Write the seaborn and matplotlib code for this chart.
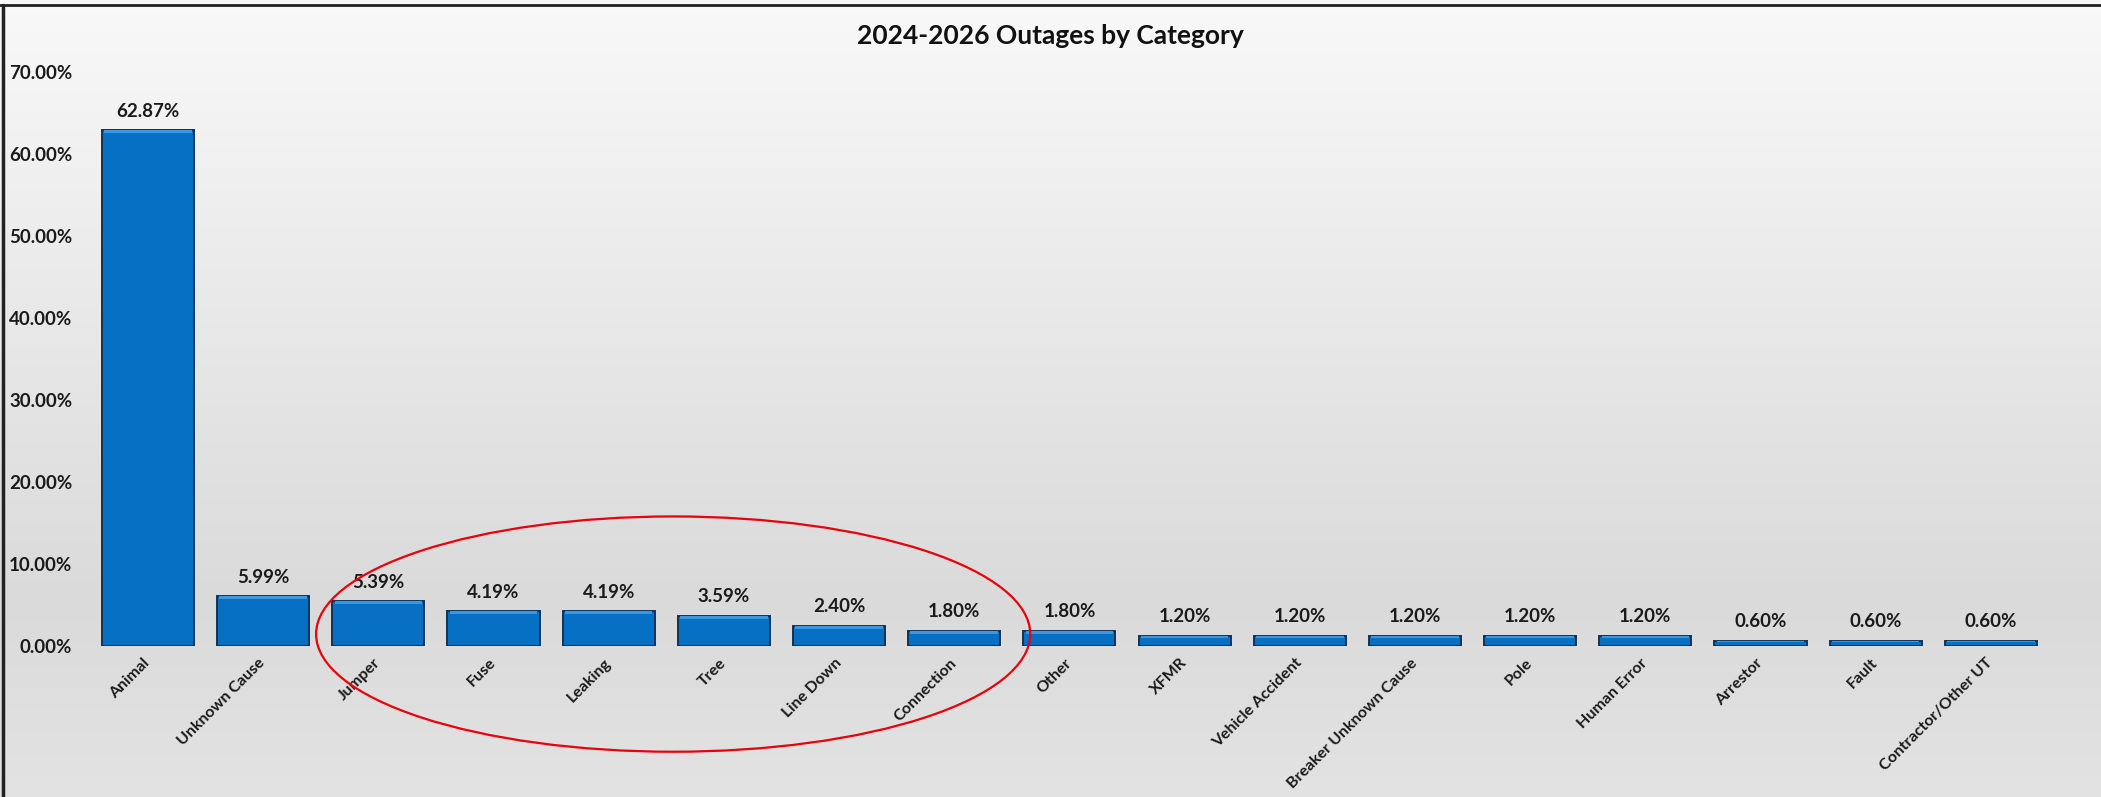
import numpy as np
import pandas as pd
import seaborn as sns
import matplotlib.pyplot as plt
from matplotlib.patches import Ellipse, Rectangle
from matplotlib.ticker import PercentFormatter

# data
categories = ['Animal', 'Unknown Cause', 'Jumper', 'Fuse', 'Leaking', 'Tree',
              'Line Down', 'Connection', 'Other', 'XFMR', 'Vehicle Accident',
              'Breaker Unknown Cause', 'Pole', 'Human Error', 'Arrestor',
              'Fault', 'Contractor/Other UT']
shares = [62.87, 5.99, 5.39, 4.19, 4.19, 3.59, 2.40, 1.80, 1.80, 1.20, 1.20,
          1.20, 1.20, 1.20, 0.60, 0.60, 0.60]
yticks = [0, 10, 20, 30, 40, 50, 60, 70]
circled = ['Jumper', 'Connection']

df = pd.DataFrame({'Category': categories, 'Share': shares})

sns.set_theme(style='white')
plt.rcParams['font.family'] = ['Lato', 'DejaVu Sans']

fig = plt.figure(figsize=(21.01, 7.97), dpi=100)

# gradient background like the excel chart area
bg = fig.add_axes([0, 0, 1, 1], zorder=-10)
grad = np.concatenate([np.linspace(0.975, 0.855, 600), np.linspace(0.855, 0.89, 197)])
bg.imshow(np.tile(grad[:, None, None], (1, 2, 3)), aspect='auto', extent=[0, 1, 0, 1])
bg.set_axis_off()
bg.plot([0, 1], [0.9935, 0.9935], color='#222222', lw=2, transform=bg.transAxes)
bg.plot([0.0012, 0.0012], [0, 0.9935], color='#222222', lw=2.5, transform=bg.transAxes)

ax = fig.add_axes([0.043, 0.19, 0.932, 0.72])
ax.patch.set_alpha(0)

sns.barplot(data=df, x='Category', y='Share', color='#0670C4', width=0.8,
            saturation=1, edgecolor='#0f3357', linewidth=1.4, ax=ax)

# bevel highlight along the top of each bar
for p in ax.patches[:len(categories)]:
    h = p.get_height()
    strip = min(0.35, h * 0.25)
    ax.add_patch(Rectangle((p.get_x() + 0.02, h - strip), p.get_width() - 0.04, strip,
                           color='#3d97e0', lw=0, zorder=p.get_zorder() + 0.1))

for i, v in enumerate(shares):
    ax.text(i, v + 1.3, f'{v:.2f}%', ha='center', va='bottom',
            fontsize=13.5, fontweight='bold', color='#1a1a1a')

ax.set_ylim(0, 70)
ax.set_xlim(-0.5, len(categories) - 0.5)
ax.set_yticks(yticks)
ax.yaxis.set_major_formatter(PercentFormatter(decimals=2))
ax.tick_params(axis='y', length=0, pad=13, labelsize=13.5)
ax.tick_params(axis='x', length=0, pad=11)
for lab in ax.get_yticklabels():
    lab.set_fontweight('bold')
    lab.set_color('#1a1a1a')
ax.set_xticks(range(len(categories)))
ax.set_xticklabels(categories, rotation=45, ha='right', va='center',
                   rotation_mode='anchor', fontsize=11.5, fontweight='bold',
                   color='#1a1a1a')
ax.set_xlabel('')
ax.set_ylabel('')
sns.despine(ax=ax, left=True, bottom=True)

fig.text(0.5, 0.955, '2024-2026 Outages by Category', ha='center', va='center',
         fontsize=19, fontweight='bold', color='#111111')

# red ellipse around the middle group
i0, i1 = categories.index(circled[0]), categories.index(circled[1])
ax.add_patch(Ellipse(((i0 + i1) / 2 + 0.06, 1.4), width=(i1 - i0) + 1.2, height=28.7,
                     fill=False, edgecolor='#e8000b', lw=1.6, clip_on=False, zorder=5))

plt.savefig('out.png', dpi=100)
